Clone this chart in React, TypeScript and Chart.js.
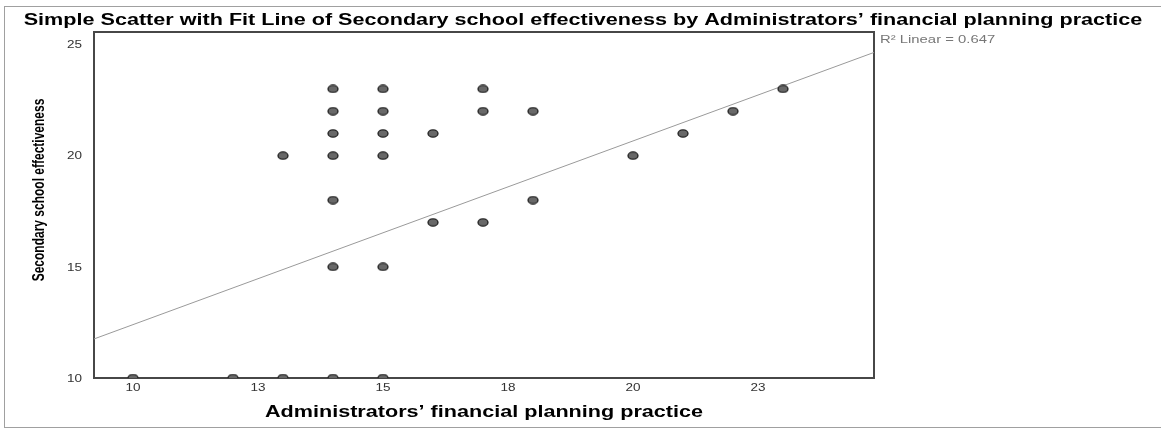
import React, { useEffect, useRef } from "react";
import { Chart, registerables } from "chart.js";

Chart.register(...registerables);

// ---- data ----
const financialPlanning: number[] = [10, 12, 13, 13, 14, 14, 14, 14, 14, 14, 14, 15, 15, 15, 15, 15, 15, 16, 16, 17, 17, 17, 18, 18, 20, 21, 22, 23];
const schoolEffectiveness: number[] = [10, 10, 10, 20, 10, 15, 18, 20, 21, 22, 23, 10, 15, 20, 21, 22, 23, 21, 17, 23, 22, 17, 22, 18, 20, 21, 22, 23];
const xTickValues: number[] = [10, 12.5, 15, 17.5, 20, 22.5];
const xTickLabels: string[] = ["10", "13", "15", "18", "20", "23"];
const yTickValues: number[] = [10, 15, 20, 25];
const yTickLabels: string[] = ["10", "15", "20", "25"];
const fitIntercept = 4.14;
const fitSlope = 0.826;
const rSquaredText = "R\u00B2 Linear = 0.647";
const chartTitle = "Simple Scatter with Fit Line of Secondary school effectiveness by Administrators\u2019 financial planning practice";
const xAxisTitle = "Administrators\u2019 financial planning practice";
const yAxisTitle = "Secondary school effectiveness";

const X_MIN = 9.22;
const X_MAX = 24.82;
const Y_MIN = 10;
const Y_MAX = 25.56;
const STRETCH = 1.35; // the reference image is widened horizontally

function makeMarker(): HTMLCanvasElement {
  const c = document.createElement("canvas");
  c.width = 12;
  c.height = 9;
  const ctx = c.getContext("2d")!;
  ctx.beginPath();
  ctx.ellipse(6, 4.5, 5, 3.6, 0, 0, Math.PI * 2);
  ctx.fillStyle = "#686868";
  ctx.fill();
  ctx.lineWidth = 1.3;
  ctx.strokeStyle = "#1e1e1e";
  ctx.stroke();
  return c;
}

function wideText(ctx: CanvasRenderingContext2D, text: string, x: number, y: number, align: CanvasTextAlign) {
  ctx.save();
  ctx.translate(x, y);
  ctx.scale(STRETCH, 1);
  ctx.textAlign = align;
  ctx.fillText(text, 0, 0);
  ctx.restore();
}

const textPlugin = {
  id: "spssText",
  beforeDatasetsDraw(chart: any) {
    const { ctx, chartArea } = chart;
    ctx.save();
    ctx.strokeStyle = "#474747";
    ctx.lineWidth = 2;
    ctx.strokeRect(chartArea.left, chartArea.top, chartArea.right - chartArea.left, chartArea.bottom - chartArea.top);
    ctx.restore();
  },
  afterDraw(chart: any) {
    const { ctx, chartArea, scales } = chart;
    ctx.save();
    ctx.textBaseline = "middle";

    // tick labels, placed by the chart's scales
    ctx.fillStyle = "#333";
    ctx.font = "10px 'Liberation Sans', Arial, sans-serif";
    xTickValues.forEach((v, i) => {
      wideText(ctx, xTickLabels[i], scales.x.getPixelForValue(v), chartArea.bottom + 10, "center");
    });
    yTickValues.forEach((v, i) => {
      wideText(ctx, yTickLabels[i], chartArea.left - 12, scales.y.getPixelForValue(v) + 1, "right");
    });

    ctx.fillStyle = "#000";
    ctx.font = "bold 16px 'Liberation Sans', Arial, sans-serif";
    wideText(ctx, chartTitle, 583, 21, "center");
    wideText(ctx, xAxisTitle, (chartArea.left + chartArea.right) / 2, 413, "center");

    ctx.save();
    ctx.translate(40, 190);
    ctx.rotate(-Math.PI / 2);
    ctx.scale(1, STRETCH);
    ctx.textAlign = "center";
    ctx.font = "bold 12px 'Liberation Sans', Arial, sans-serif";
    ctx.fillText(yAxisTitle, 0, 0);
    ctx.restore();

    ctx.fillStyle = "#777";
    ctx.font = "11px 'Liberation Sans', Arial, sans-serif";
    wideText(ctx, rSquaredText, chartArea.right + 6, 40, "left");
    ctx.restore();
  },
};

export default function App() {
  const ref = useRef<HTMLCanvasElement | null>(null);

  useEffect(() => {
    if (!ref.current) return;
    const marker = makeMarker();
    const points = financialPlanning.map((x, i) => ({ x, y: schoolEffectiveness[i] }));
    const fit = [
      { x: X_MIN, y: fitIntercept + fitSlope * X_MIN },
      { x: X_MAX, y: fitIntercept + fitSlope * X_MAX },
    ];
    const chart = new Chart(ref.current, {
      type: "scatter",
      data: {
        datasets: [
          {
            type: "line",
            label: "Fit",
            data: fit,
            borderColor: "#9a9a9a",
            borderWidth: 1,
            pointRadius: 0,
            fill: false,
            order: 2,
          } as any,
          {
            label: "Observed",
            data: points,
            pointStyle: marker as any,
            pointRadius: 5,
            order: 1,
          },
        ],
      },
      plugins: [textPlugin],
      options: {
        responsive: false,
        animation: false,
        layout: { padding: { left: 0, top: 32, right: 287, bottom: 0 } },
        plugins: {
          legend: { display: false },
          title: { display: false },
          tooltip: { enabled: false },
        },
        scales: {
          x: {
            type: "linear",
            min: X_MIN,
            max: X_MAX,
            grid: { display: false, drawTicks: false },
            border: { display: false },
            afterFit: (s: any) => {
              s.height = 54;
            },
            afterBuildTicks: (s: any) => {
              s.ticks = xTickValues.map((v) => ({ value: v }));
            },
            ticks: { display: false },
          },
          y: {
            type: "linear",
            min: Y_MIN,
            max: Y_MAX,
            grid: { display: false, drawTicks: false },
            border: { display: false },
            afterFit: (s: any) => {
              s.width = 94;
            },
            afterBuildTicks: (s: any) => {
              s.ticks = yTickValues.map((v) => ({ value: v }));
            },
            ticks: { display: false },
          },
        },
      },
    });
    return () => chart.destroy();
  }, []);

  return (
    <div style={{ position: "fixed", left: 0, top: 0, width: 1161, height: 432, background: "#fff" }}>
      <div
        style={{
          position: "absolute",
          left: 4,
          top: 6,
          width: 1170,
          height: 422,
          border: "1px solid #a0a0a0",
          boxSizing: "border-box",
        }}
      />
      <canvas ref={ref} width={1161} height={432} style={{ position: "absolute", left: 0, top: 0 }} />
    </div>
  );
}
